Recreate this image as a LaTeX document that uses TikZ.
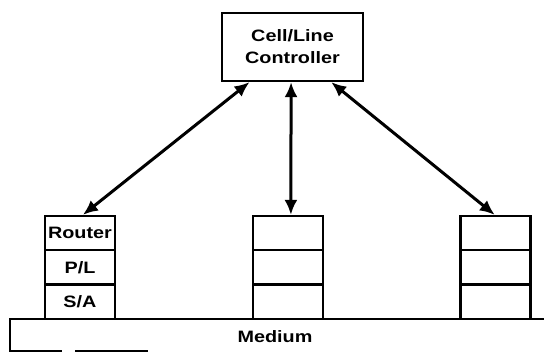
\documentclass[tikz,border=0pt]{standalone}
\usepackage{fontspec}
\setmainfont{Liberation Sans}[FakeStretch=1.2]
\usetikzlibrary{arrows.meta,calc}
\begin{document}
\begin{tikzpicture}[x=1pt,y=-1pt,
  boxline/.style={draw=black,line width=2.2pt},
  ctrlbox/.style={boxline,minimum width=141pt,minimum height=68pt,inner sep=0pt,
    align=center,font=\fontsize{16.5}{22}\selectfont\bfseries},
  cell/.style={boxline,minimum width=70pt,minimum height=34.3pt,inner sep=0pt,
    font=\fontsize{16.5}{18}\selectfont\bfseries},
  link/.style={line width=3pt,{Latex[length=15pt,width=13pt]}-{Latex[length=15pt,width=13pt]}},
  lbl/.style={font=\fontsize{16.5}{18}\selectfont\bfseries}]
\useasboundingbox (0,0) rectangle (544,352);

% controller
\node[ctrlbox] (ctrl) at (292.5,47) {Cell/Line\\Controller};

% left protocol stack
\node[cell] (r1) at (80,233.15) {Router};
\node[cell] (r2) at (80,267.45) {P/L};
\node[cell] (r3) at (80,301.75) {S/A};

% middle stack
\node[cell] (m1) at (288,233.15) {};
\node[cell] (m2) at (288,267.45) {};
\node[cell] (m3) at (288,301.75) {};

% right stack
\node[cell] (n1) at (495.5,233.15) {};
\node[cell] (n2) at (495.5,267.45) {};
\node[cell] (n3) at (495.5,301.75) {};

% medium
\draw[boxline] (544,319) -- (10,319) -- (10,352);
\draw[boxline] (10,351) -- (62,351);
\draw[boxline] (75,351) -- (148,351);
\node[lbl] (medium) at (275,337) {Medium};

% links from the controller to each stack
\draw[link] ($(ctrl.south west)!0.2!(ctrl.south east)$) -- ($(r1.north west)!0.54!(r1.north east)$);
\draw[link] ($(ctrl.south west)!0.49!(ctrl.south east)$) -- ($(m1.north west)!0.54!(m1.north east)$);
\draw[link] ($(ctrl.south west)!0.77!(ctrl.south east)$) -- ($(n1.north west)!0.49!(n1.north east)$);
\end{tikzpicture}
\end{document}
